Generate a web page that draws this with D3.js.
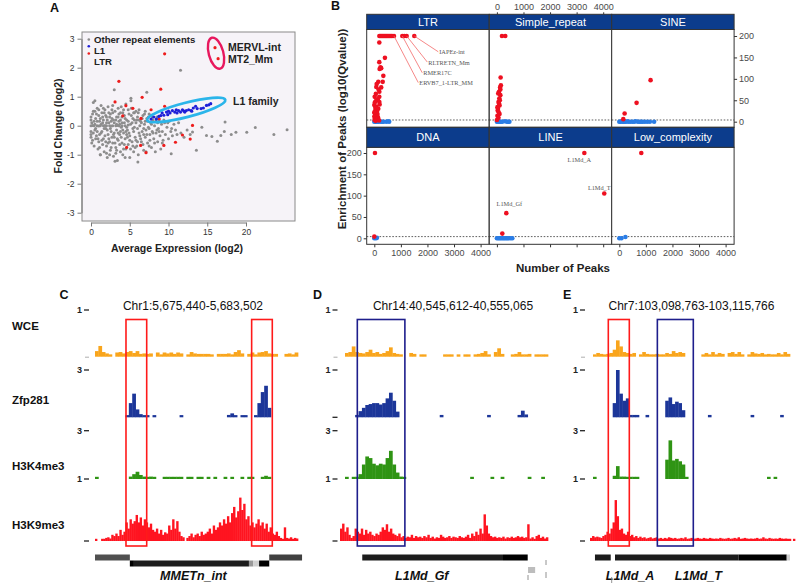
<!DOCTYPE html>
<html><head><meta charset="utf-8">
<script src="https://cdn.jsdelivr.net/npm/d3@7"></script>
<style>body{margin:0;background:#fff}svg{display:block}</style>
</head><body><svg id="c" width="796" height="586"></svg>
<script>
// ---------------- DATA: panel A ----------------
const grayPts = [
[0,0],[0.2,0.01],[0.4,0],[0.8,0],[1,-0.01],[1.2,0],[1.6,0],[1.8,0.01],[2,0],[2.4,0],[2.6,-0.01],[2.8,0],[3.2,0],[3.4,0.01],[3.6,0],[4,0],[4.4,0],[4.8,0.02],
[0,0.3],[0,0.2],[0,-0.2],[0,-0.3],[0,-0.4],[0.1,0.1],[0.2,-0.5],[0.3,0.8],[0.4,-0.7],[0.5,0.5],[0.5,-0.15],[0.6,0.25],[0.7,-0.35],[0.8,0.6],[0.9,-0.8],[1.0,0.35],[1.0,-0.55],[1.1,0.15],[1.2,-1.0],[1.3,0.7],[1.3,-0.25],[1.4,0.45],[1.5,-0.65],[1.6,0.2],[1.6,-0.45],[1.7,-0.9],[1.8,0.55],[1.9,-0.1],[2.0,0.3],[2.0,-0.7],[2.1,-1.1],[2.2,0.65],[2.2,-0.3],[2.3,0.1],[2.4,-0.55],[2.5,0.4],[2.5,-0.85],[2.6,-0.2],[2.7,0.25],[2.8,-0.6],[2.8,0.7],[2.9,-1.05],[3.0,0.1],[3.0,-0.4],[3.1,0.5],[3.2,-0.75],[3.3,-0.15],[3.3,0.3],[3.4,-1.2],[3.5,0.6],[3.5,-0.5],[3.6,0.15],[3.7,-0.3],[3.8,-0.9],[3.8,0.45],[3.9,-0.05],[4.0,0.3],[4.0,-0.6],[4.1,-1.0],[4.2,0.55],[4.2,-0.25],[4.3,0.1],[4.4,-0.45],[4.5,0.75],[4.5,-0.8],[4.6,0.2],[4.7,-0.15],[4.8,-0.65],[4.9,0.4],[5.0,-1.1],[5.0,-0.35],[5.1,0.05],[5.2,0.6],[5.3,-0.55],[5.4,0.25],[5.5,-0.2],[5.5,-0.9],[5.6,0.45],[5.7,-0.4],[5.8,0.1],[5.9,-0.7],[6.0,0.3],[6.0,-0.1],[6.1,-1.0],[6.2,0.55],[6.3,-0.35],[6.4,0.15],[6.5,-0.55],[6.6,-0.2],[6.7,0.35],[6.8,-0.85],[6.9,0.05],[7.0,-0.4],[7.0,0.5],[7.1,-0.15],[7.2,0.25],[7.3,-0.6],[7.4,-0.05],[7.5,0.4],[7.6,-0.3],[7.7,0.1],[7.8,-0.75],[7.9,-0.2],[8.0,0.2],[8.1,-0.45],[8.2,0.0],[8.3,-0.9],[8.4,-0.25],[8.5,0.3],[8.6,-0.55],[8.7,-0.1],[8.8,0.15],[8.9,-0.35],[9.0,-0.8],[9.1,0.05],[9.2,-0.2],[9.3,-0.5],[9.5,0.1],[9.6,-0.3],[9.8,-0.05],[10.0,-0.45],[10.1,0.15],[10.3,-0.2],[10.5,-0.35],[10.7,0.05],[10.9,-0.15],[11.1,-0.3],[11.3,0.1],[11.6,-0.25],[12.0,-0.4],[12.4,-0.15],[12.8,-0.3],[13.1,-0.22],[13.6,-0.85],[14.3,-0.05],[14.9,-0.34],[15.6,-0.37],[16.3,-0.54],[16.75,-0.34],[17.2,-0.2],[17.3,0.13],[18.1,-0.3],[18.7,-0.23],[20.1,-0.23],[21.2,-0.06],[23.6,-0.3],[25.3,-0.14],[11.55,1.91],[7.2,1.15],[3.0,1.24],[5.15,0.95],[5.15,0.86],[0.5,0.86],[10.35,-0.97],[6.05,-1.25],[3.1,-1.23],[1.2,-1.0],
[1.5,0.1],[2.1,-0.15],[2.9,0.2],[3.7,0.05],[4.6,-0.05],[1.1,-0.3],[0.6,-0.1],[1.9,0.35],[2.7,-0.4],[3.5,-0.25],[4.3,0.35],[5.4,-0.1],[6.5,0.1],[6.2,-0.25],[7.5,-0.1],[8.5,-0.15],[0.3,-0.25],[0.8,0.15],[1.4,-0.2],[2.3,0.45],[3.1,-0.6],[3.9,0.65],[4.7,-0.4],[5.6,0.2],[6.8,-0.3],[7.7,0.35],[8.2,-0.6],[9.4,0.2],[1.7,0.45],[2.6,0.15],[4.1,-0.15],[5.8,-0.5],[6.9,0.4],[7.3,0.15],[8.8,-0.2],[0.9,-0.45],[2.4,-1.0],[3.3,-0.85],[4.4,-1.1],[5.7,-0.75],[7.1,-0.9],
[0.2,0.4],[0.4,0.15],[0.6,-0.45],[0.8,-0.2],[1.0,0.55],[1.2,0.25],[1.4,-0.5],[1.6,0.6],[1.8,-0.35],[2.0,0.1],[2.2,-0.6],[2.4,0.3],[2.6,-0.75],[2.8,0.45],[3.0,-0.25],[3.2,0.2],[3.4,-0.45],[3.6,0.4],[3.8,-0.2],[4.0,0.1],[4.2,-0.8],[4.4,0.25],[4.6,-0.3],[4.8,0.15],[5.0,-0.5],[5.2,0.35],[5.4,-0.7],[5.6,-0.05],[5.8,0.5],[6.0,-0.55],[6.2,0.2],[6.4,-0.45],[6.6,0.25],[6.8,-0.1],[7.0,0.15],[7.2,-0.3],[7.4,0.3],[7.6,-0.5],[7.8,0.05],[8.0,-0.25],[1.3,0.05],[2.5,-0.1],[3.3,0.05],[4.5,-0.2],[5.3,0.1],[6.3,0.0],[0.7,0.4],[1.9,-0.55],[2.9,-0.3],[3.9,-0.4],[4.9,-0.25],[5.9,0.2],[0.5,0.05],[1.5,0.3],[2.3,-0.45],[3.5,0.3],[4.1,0.45],[5.1,-0.8],[6.1,0.45],[7.9,0.3],[8.6,0.1],[9.2,-0.6],[9.9,0.1],[10.4,-0.1],[0.1,-0.6],[0.3,0.5],[1.1,-0.75],[2.0,-0.95],[2.7,0.55],[3.7,-0.65],[4.8,0.55],[5.5,0.45],[6.7,-0.65],[7.5,-0.7],[8.4,0.2],[3.2,-0.95],[4.3,-0.65],[1.7,-0.1],[2.1,0.2],[3.8,0.2]
];
const l1Pts = [[7.75,0.23],[8.1,0.3],[8.44,0.23],[8.75,0.32],[9.0,0.35],[9.18,0.44],[9.4,0.36],[9.74,0.47],[9.9,0.38],[10.0,0.5],[10.2,0.44],[10.5,0.52],[10.8,0.47],[11.0,0.55],[11.1,0.44],[11.3,0.52],[11.55,0.47],[11.8,0.55],[12.0,0.5],[12.1,0.47],[12.3,0.52],[12.6,0.55],[12.9,0.52],[13.0,0.5],[13.2,0.61],[13.5,0.67],[13.7,0.59],[14.2,0.59],[14.5,0.61],[14.9,0.7],[15.2,0.72],[15.45,0.76]];
const ltrPts = [[9.5,2.48],[3.6,1.53],[9.0,1.26],[6.6,0.98],[3.1,0.82],[4.5,0.69],[5.4,0.6],[7.75,0.55],[9.5,0.67],[4.1,0.34],[6.45,0.25],[8.8,0.23],[13.1,0.01],[11.8,-0.32],[12.8,-0.46],[10.9,-0.57],[9.4,-0.68],[6.4,-0.68],[4.6,-0.75],[7.1,-0.93]];
const ltrNamed = [{name:"MERVL-int",x:16.0,y:2.69},{name:"MT2_Mm",x:16.4,y:2.31}];
const legendA = [{label:"Other repeat elements",color:"#8c8c8c"},{label:"L1",color:"#1f1fd8"},{label:"LTR",color:"#ee1c1c"}];
const aXTicks = [0,5,10,15,20];
const aYTicks = [-3,-2,-1,0,1,2,3];

// ---------------- DATA: panel B ----------------
const facetNames = ["LTR","Simple_repeat","SINE","DNA","LINE","Low_complexity"];
const ltrSig = [[190,200],[230,200],[270,200],[310,200],[350,200],[390,200],[430,200],[470,200],[510,200],[550,200],[590,200],[630,200],[670,200],[741,200],[1054,200],[1130,200],[1218,200],[1505,200],
[188,185],[400,149],[188,139],[230,127],[260,125],[200,123],[340,107],[150,93],[316,93],[75,81],[260,80],[190,70],[15,58],[188,58],[75,50],[190,46],[0,39],[75,35],[150,30],[40,27],[100,24],[20,20],[120,18],[60,15],[0,12],[140,10],[30,8],[90,6],[10,4],[180,3],[50,2],[110,30],[200,40],[60,65],[130,52],[20,45],[90,88],[160,75],[40,33],[0,22]];
const ltrNon = [[0,0],[40,0],[80,0],[120,0],[160,0],[200,1],[250,0],[300,0],[350,0],[450,0],[520,1],[560,0],[30,2],[100,1]];
const simpleSig = [[190,200],[315,200],[140,103],[150,85],[120,80],[80,70],[130,62],[90,54],[60,46],[100,38],[40,30],[70,22],[20,14],[60,9],[0,4],[110,50],[50,66],[30,26],[100,18],[80,42],[130,75],[20,34]];
const simpleNon = [[0,0],[50,0],[100,0],[150,0],[200,0],[300,1],[380,0],[420,0],[470,0]];
const sineSig = [[1177,97],[650,44],[200,19],[150,6]];
const sineNon = [[0,0],[40,0],[80,1],[120,0],[160,0],[200,0],[250,0],[300,1],[350,0],[420,0],[500,0],[560,0],[620,1],[700,0],[760,0],[820,0],[880,0],[960,0],[1050,0],[1150,0],[1310,0]];
const dnaSig = [[25,200],[0,4]];
const dnaNon = [[0,0],[60,0],[100,1]];
const lineSig = [[3290,200],[4040,105],[354,59],[203,11]];
const lineNon = [[0,0],[50,0],[100,0],[150,0],[200,0],[250,0],[300,0],[350,0],[400,0],[450,0],[520,0],[580,0]];
const lowSig = [[828,200]];
const lowNon = [[0,0],[80,0],[230,3]];
const ltrLabels = [
 {name:"IAPEz-int",x:1505,y:200,lx:2445,ly:162},
 {name:"RLTRETN_Mm",x:1218,y:200,lx:2032,ly:138},
 {name:"RMER17C",x:1054,y:200,lx:1843,ly:113},
 {name:"ERVB7_1-LTR_MM",x:741,y:200,lx:1693,ly:90}];
const lineLabels = [{name:"L1Md_A",x:3290,y:200},{name:"L1Md_T",x:4040,y:105},{name:"L1Md_Gf",x:354,y:59}];
const bXTicks = [0,1000,2000,3000,4000];
const bYTicks = [0,50,100,150,200];
const qThreshold = 4;

// ---------------- DATA: panels C, D, E ----------------
const trackNames = ["WCE","Zfp281","H3K4me3","H3K9me3"];
const wceC = [0.12,0.23,0.1,0.07,0.05,0,0.09,0.1,0.07,0.1,0.12,0.08,0.12,0.06,0.07,0.06,0.07,0,0.09,0.05,0.09,0.07,0.09,0.06,0.09,0.07,0,0.05,0.1,0.07,0.06,0.06,0.06,0.06,0.05,0,0.06,0.06,0.06,0.07,0.05,0.1,0.14,0.07,0,0.06,0.09,0.05,0.09,0.1,0.12,0.07,0.06,0.06,0,0,0.06,0.07,0.05,0.09];
const zfpC = [0,0,0,0,0,0,0,0,0,0.1,0.9,1.5,0.5,0.2,0.05,0.05,0,0.05,0,0,0,0,0,0,0,0.05,0,0,0,0,0,0,0,0,0,0,0,0,0,0.15,0.25,0.05,0,0.05,0.05,0,0,0.1,0.9,1.6,2.0,0.6,0,0,0,0,0,0,0,0];
const k4C = [0.05,0,0,0,0,0,0,0,0,0,0.15,0.3,0.45,0.25,0.15,0.1,0.15,0.05,0,0,0.05,0.05,0.05,0.05,0.05,0.05,0,0.05,0.05,0,0.05,0.05,0,0.05,0,0.05,0,0,0.05,0,0.05,0,0,0.05,0,0.05,0.05,0,0,0.1,0.2,0.05,0,0,0,0,0,0,0,0];
const k9C = [0.03,0,0,0.02,0.03,0.05,0.06,0.04,0.1,0.08,0.12,0.08,0.18,0.1,0.15,0.3,0.2,0.35,0.28,0.32,0.42,0.3,0.38,0.25,0.35,0.3,0.22,0.28,0.18,0.15,0.2,0.12,0.18,0.1,0.14,0.12,0.25,0.18,0.35,0.2,0.32,0.15,0.08,0.06,0,0.05,0.08,0.12,0.06,0.1,0.12,0.08,0.15,0.1,0.12,0.15,0.2,0.12,0.25,0.18,0.22,0.3,0.25,0.35,0.28,0.4,0.3,0.45,0.55,0.38,0.48,0.7,0.5,0.6,0.35,0.4,0.25,0.3,0.22,0.28,0.35,0.25,0.3,0.2,0.28,0.15,0.22,0.12,0.1,0.15,0.08,0.05,0.03,0.22,0.05,0.04,0.06,0.03,0.05,0.04];
const wceD = [0.08,0.1,0.22,0.1,0.08,0.07,0.1,0.15,0.08,0.1,0.06,0.08,0.12,0.2,0.08,0.06,0.05,0,0,0.08,0.06,0,0.05,0.05,0,0,0,0,0,0.05,0.05,0.05,0,0.05,0,0.05,0.05,0,0.05,0.06,0.08,0.12,0.05,0,0.1,0.18,0.06,0,0,0.05,0.06,0.1,0.05,0.05,0.06,0,0.05,0.05,0.05,0.05];
const zfpD = [0,0,0,0.05,0.13,0.2,0.26,0.28,0.3,0.3,0.27,0.3,0.4,0.52,0.35,0.12,0,0,0,0,0,0,0,0,0,0,0,0,0.05,0,0,0,0,0,0,0,0,0,0,0,0,0,0.05,0,0,0,0,0,0,0,0,0.05,0.14,0.06,0,0,0,0,0,0];
const k4D = [0.05,0,0.05,0.05,0.3,0.9,1.4,1.3,0.95,0.85,0.95,0.9,1.3,1.75,0.9,0.4,0.15,0.05,0,0,0,0,0,0,0,0,0,0,0,0,0,0,0,0,0,0,0,0.05,0,0,0,0,0,0.05,0,0,0.05,0,0,0,0,0,0,0,0.05,0,0,0,0.05,0];
const k9D = [0.2,0.28,0.15,0.22,0.1,0.05,0.08,0.2,0.15,0.12,0.2,0.1,0.18,0.12,0.15,0.1,0.08,0.12,0.1,0.15,0.22,0.18,0.27,0.15,0.2,0.12,0.1,0.08,0.12,0.06,0.08,0.05,0.07,0.06,0.1,0.05,0.08,0.06,0.07,0.05,0.08,0.06,0.1,0.05,0.07,0.04,0.06,0.05,0.1,0.07,0.05,0.06,0.08,0.05,0.07,0.06,0.05,0.08,0.06,0.05,0.07,0.1,0.05,0.12,0.08,0.15,0.1,0.2,0.12,0.43,0.25,0.12,0.08,0.06,0.07,0.05,0.06,0.05,0.07,0.04,0.06,0.05,0.07,0.05,0.06,0.08,0.06,0.07,0.05,0.06,0.27,0.04,0.06,0.03,0.08,0.1,0.05,0.07,0.04,0.06];
const wceE = [0.05,0.08,0.06,0.05,0.06,0.08,0.15,0.35,0.22,0.1,0.08,0.06,0.08,0,0.05,0.1,0.06,0.05,0.05,0.06,0.05,0.05,0.08,0.06,0.12,0.08,0.1,0.08,0,0,0,0,0,0.05,0.08,0.05,0.1,0.05,0.08,0.06,0,0.08,0.1,0.06,0.1,0.05,0,0.05,0.1,0.07,0.06,0.08,0.05,0.06,0.05,0.05,0.08,0.05,0.1,0.06];
const zfpE = [0,0,0,0,0,0,0.3,1.0,0.5,0.35,0.4,0.05,0.05,0.05,0,0,0.05,0,0,0,0,0,0.35,0.42,0.28,0.33,0.3,0.15,0,0,0,0,0,0,0,0.05,0,0,0,0,0,0,0,0,0,0,0,0,0.05,0,0,0,0,0,0,0,0,0.05,0,0];
const k4E = [0.05,0,0,0,0,0,0.2,0.8,0.15,0.15,0.12,0.05,0.05,0.05,0,0,0,0,0,0,0,0,1.2,2.4,1.15,1.25,1.1,0.9,0.1,0,0,0,0,0,0,0,0,0,0,0,0,0,0,0,0,0,0,0,0,0,0,0,0,0.05,0,0.05,0,0,0,0];
const k9E = [0.05,0.08,0.06,0.07,0.06,0.05,0.08,0.1,0.15,0.12,0.2,0.3,0.66,0.4,0.18,0.2,0.12,0.1,0.15,0.08,0.1,0.06,0.08,0.05,0.07,0.05,0.06,0.04,0.05,0.06,0.04,0.05,0.06,0.04,0.05,0.03,0.05,0.04,0.06,0.05,0.04,0.05,0.03,0.04,0.05,0.04,0.06,0.03,0.04,0.05,0.03,0.04,0.05,0.04,0.03,0.05,0.04,0.03,0.05,0.04,0.03,0.04,0.03,0.05,0.04,0.03,0.04,0.05,0.03,0.04,0.05,0.04,0.06,0.03,0.04,0.05,0.04,0.03,0.04,0.03,0.04,0.05,0.03,0.04,0.06,0.04,0.03,0.05,0.04,0.03,0.04,0.03,0.05,0.04,0.03,0.04,0.03,0.02,0,0.03];
const scaleMaxC = [1,3,3,1], scaleMaxD = [1,1,3,1], scaleMaxE = [1,1,3,1];
const regionsC = [{from:9.16,to:15.28,kind:"red"},{from:46.3,to:52.4,kind:"red"}];
const regionsD = [{from:3.64,to:17.7,kind:"blue"}];
const regionsE = [{from:4.66,to:11.06,kind:"red"},{from:19.6,to:30.55,kind:"blue"}];
const genesC = [{s:0,e:10.3,row:0,tone:"#505050"},{s:10.3,e:11.5,row:1,tone:"#000"},{s:11.5,e:45.5,row:1,tone:"#1c1c1c"},{s:45.5,e:46.8,row:1,tone:"#999"},{s:46.8,e:48.5,row:1,tone:"#d0d0d0"},{s:48.5,e:51.5,row:1,tone:"#000"},{s:51.5,e:61.2,row:0,tone:"#404040"}];
const genesD = [{s:5.1,e:46.7,row:0,tone:"#1c1c1c"},{s:46.7,e:54,row:0,tone:"#000"},{s:54.1,e:56.2,row:2,tone:"#bdbdbd"}];
const genesE = [{s:0.6,e:5.4,row:0,tone:"#1c1c1c"},{s:6.7,e:44.3,row:0,tone:"#1c1c1c"},{s:44.3,e:59,row:0,tone:"#000"},{s:59,e:60,row:0,tone:"#cfcfcf"}];
const geneLabelsC = [{name:"MMETn_int",at:29.1}];
const geneLabelsD = [{name:"L1Md_Gf",at:22.7}];
const geneLabelsE = [{name:"L1Md_A",at:11.3},{name:"L1Md_T",at:32.1}];

// ---------------- DRAW ----------------
const FONT = "Arial, 'Liberation Sans', Helvetica, sans-serif";
const svg = d3.select("#c").style("font-family", FONT);
const plain = d => String(d);

function letter(t,x,y){ svg.append("text").attr("x",x).attr("y",y).attr("font-size",12.5).attr("font-weight","bold").attr("fill","#111").text(t); }

// ===== Panel A =====
(function(){
  const g = svg.append("g");
  const x = d3.scaleLinear().domain([0,20]).range([91,246]);
  const y = d3.scaleLinear().domain([-3,3]).range([212.7,38.7]);
  g.append("rect").attr("x",82).attr("y",32).attr("width",213).attr("height",189)
    .attr("fill","#f6f3f8").attr("stroke","#8a8a8a").attr("stroke-width",1);
  const ax = g.append("g").attr("transform","translate(0,222.5)")
    .call(d3.axisBottom(x).tickValues(aXTicks).tickFormat(plain).tickSize(4).tickSizeOuter(0).tickPadding(2));
  const ay = g.append("g").attr("transform","translate(81.5,0)")
    .call(d3.axisLeft(y).tickValues(aYTicks).tickFormat(plain).tickSize(4).tickSizeOuter(0).tickPadding(3));
  [ax,ay].forEach(a=>{a.selectAll("path,line").attr("stroke","#777");
    a.selectAll("text").attr("font-size",8.5).attr("fill","#333").attr("font-family",FONT);});
  g.append("g").selectAll("circle").data(grayPts).join("circle")
    .attr("cx",d=>x(d[0])).attr("cy",d=>y(d[1])).attr("r",1.5).attr("fill","#8d8d8d");
  g.append("g").selectAll("circle").data(ltrPts.concat(ltrNamed.map(d=>[d.x,d.y]))).join("circle")
    .attr("cx",d=>x(d[0])).attr("cy",d=>y(d[1])).attr("r",1.6).attr("fill","#ee1c1c");
  g.append("g").selectAll("circle").data(l1Pts).join("circle")
    .attr("cx",d=>x(d[0])).attr("cy",d=>y(d[1])).attr("r",1.6).attr("fill","#1f1fd8");
  // legend
  const legY = [39.5,46.3,53.5], legTY=[42.8,53.6,65];
  legendA.forEach((d,i)=>{
    g.append("circle").attr("cx",88.8).attr("cy",legY[i]).attr("r",1.3).attr("fill",d.color);
    g.append("text").attr("x",94).attr("y",legTY[i]).attr("font-size",9.6).attr("font-weight","bold").attr("fill","#222").text(d.label);
  });
  // pink ellipse around named LTRs
  const px = d3.mean(ltrNamed,d=>x(d.x))-0.5, py = d3.mean(ltrNamed,d=>y(d.y));
  g.append("ellipse").attr("cx",px).attr("cy",py).attr("rx",7.3).attr("ry",16)
    .attr("transform",`rotate(-15,${px},${py})`).attr("fill","none").attr("stroke","#e8175d").attr("stroke-width",2.4);
  ltrNamed.forEach((d,i)=>g.append("text").attr("x",228).attr("y",y(d.y)+3.8).attr("font-size",10.5)
    .attr("font-weight","bold").attr("fill","#222").text(d.name));
  // blue ellipse around L1 family
  const first = l1Pts[0], last = l1Pts[l1Pts.length-1];
  const x1=x(first[0]), y1=y(first[1]), x2=x(last[0]), y2=y(last[1]);
  const ang = Math.atan2(y2-y1,x2-x1), ux=Math.cos(ang), uy=Math.sin(ang);
  const ex1 = x1-4*ux, ey1=y1-4*uy, ex2 = x2+15*ux, ey2=y2+15*uy;
  const ecx=(ex1+ex2)/2, ecy=(ey1+ey2)/2, erx=Math.hypot(ex2-ex1,ey2-ey1)/2;
  g.append("ellipse").attr("cx",ecx).attr("cy",ecy).attr("rx",erx).attr("ry",7.2)
    .attr("transform",`rotate(${ang*180/Math.PI},${ecx},${ecy})`).attr("fill","none").attr("stroke","#2bb5ea").attr("stroke-width",2.8);
  g.append("text").attr("x",233).attr("y",104.5).attr("font-size",10.5).attr("font-weight","bold").attr("fill","#222").text("L1 family");
  g.append("text").attr("x",177).attr("y",252).attr("text-anchor","middle").attr("font-size",10.5).attr("font-weight","bold").attr("fill","#222").text("Average Expression (log2)");
  g.append("text").attr("transform","translate(61.5,126) rotate(-90)").attr("text-anchor","middle").attr("font-size",10.5).attr("font-weight","bold").attr("fill","#222").text("Fold Change (log2)");
  letter("A",50,11.5);
})();

// ===== Panel B =====
(function(){
  const g = svg.append("g");
  const colL = [366.7,489.3,611.7], colW = 122.4;
  const rows = [{sy:14.3,sh:15.2,py:29.5,ph:97.8,y0:121.7,y1:36},{sy:127.3,sh:20,py:147.3,ph:97,y0:238.3,y1:153}];
  const sig = [ltrSig,simpleSig,sineSig,dnaSig,lineSig,lowSig];
  const non = [ltrNon,simpleNon,sineNon,dnaNon,lineNon,lowNon];
  const lineOff = [[-5,8.5],[-5,-4],[3,-7]];
  facetNames.forEach((name,i)=>{
    const c=i%3, r=Math.floor(i/3), R=rows[r], L=colL[c];
    const xs = d3.scaleLinear().domain([0,4000]).range([L+7.6,L+113.9]);
    const ys = d3.scaleLinear().domain([0,200]).range([R.y0,R.y1]);
    g.append("rect").attr("x",L).attr("y",R.py).attr("width",colW).attr("height",R.ph).attr("fill","#fff").attr("stroke","#333").attr("stroke-width",1);
    g.append("rect").attr("x",L).attr("y",R.sy).attr("width",colW).attr("height",R.sh).attr("fill","#0c3c8c").attr("stroke","#333").attr("stroke-width",1);
    g.append("text").attr("x",L+colW/2).attr("y",R.sy+R.sh/2+4).attr("text-anchor","middle").attr("font-size",11).attr("fill","#fff").text(name);
    g.append("line").attr("x1",L).attr("x2",L+colW).attr("y1",ys(qThreshold)).attr("y2",ys(qThreshold))
      .attr("stroke","#333").attr("stroke-width",0.8).attr("stroke-dasharray","1.6,1.6");
    g.append("g").selectAll("circle").data(non[i]).join("circle").attr("cx",d=>xs(d[0])).attr("cy",d=>ys(d[1])).attr("r",2.3).attr("fill","#2a7de6");
    g.append("g").selectAll("circle").data(sig[i]).join("circle").attr("cx",d=>xs(d[0])).attr("cy",d=>ys(d[1])).attr("r",2.3).attr("fill","#ee1020");
    if(name==="LTR"){
      ltrLabels.forEach(d=>{
        g.append("line").attr("x1",xs(d.x)).attr("y1",ys(d.y)).attr("x2",xs(d.lx)-1).attr("y2",ys(d.ly)-0.5).attr("stroke","#f26a6a").attr("stroke-width",0.8);
        g.append("text").attr("x",xs(d.lx)).attr("y",ys(d.ly)+2.2).attr("font-size",6.3).attr("font-family","'Liberation Serif','DejaVu Serif',serif").attr("fill","#555").text(d.name);
      });
    }
    if(name==="LINE"){
      lineLabels.forEach((d,k)=>g.append("text").attr("x",xs(d.x)+lineOff[k][0]).attr("y",ys(d.y)+lineOff[k][1]).attr("text-anchor","middle")
        .attr("font-size",6.3).attr("font-family","'Liberation Serif','DejaVu Serif',serif").attr("fill","#555").text(d.name));
    }
    const styleAx = a=>{a.selectAll("path").attr("stroke","none");a.selectAll("line").attr("stroke","#333");
      a.selectAll("text").attr("font-size",9).attr("fill","#4a4a4a").attr("font-family",FONT);};
    if(r===1){
      const a = g.append("g").attr("transform",`translate(0,${R.py+R.ph})`).call(d3.axisBottom(xs).tickValues(bXTicks).tickFormat(plain).tickSize(3).tickPadding(2));
      styleAx(a); if(c===1) a.selectAll("text").remove();
      if(c===0){ const a2=g.append("g").attr("transform",`translate(${L},0)`).call(d3.axisLeft(ys).tickValues(bYTicks).tickFormat(plain).tickSize(3).tickPadding(2)); styleAx(a2); }
    } else {
      if(c===1){ const a=g.append("g").attr("transform",`translate(0,${R.sy})`).call(d3.axisTop(xs).tickValues(bXTicks).tickFormat(plain).tickSize(2).tickPadding(2)); styleAx(a); }
      if(c===2){ const a=g.append("g").attr("transform",`translate(${L+colW},0)`).call(d3.axisRight(ys).tickValues(bYTicks).tickFormat(plain).tickSize(3).tickPadding(2)); styleAx(a); }
    }
  });
  g.append("text").attr("x",563).attr("y",272).attr("text-anchor","middle").attr("font-size",11.5).attr("font-weight","bold").attr("fill","#222").text("Number of Peaks");
  g.append("text").attr("transform","translate(346,129) rotate(-90)").attr("text-anchor","middle").attr("font-size",11.5).attr("font-weight","bold").attr("fill","#222").text("Enrichment of Peaks (log10(Qvalue))");
  letter("B",331,9.5);
})();

// ===== Panels C, D, E =====
(function(){
  const tracks = [{base:356.7,top:310,color:"#f9a51c"},{base:417.3,top:370,color:"#1c3699"},{base:479,top:430.7,color:"#2f9414"},{base:541,top:479,color:"#ff1420"}];
  const labelY = [330,404,470,529];
  trackNames.forEach((t,i)=>svg.append("text").attr("x",12).attr("y",labelY[i]).attr("font-size",11.5).attr("font-weight","bold").attr("fill","#111").text(t));
  const panels = [
    {L:"C",lx:59.5,title:"Chr1:5,675,440-5,683,502",tx:193,x0:95,x1:298,k0:95,k1:298,tick:84,max:scaleMaxC,data:[wceC,zfpC,k4C,k9C],reg:regionsC,genes:genesC,gl:geneLabelsC,baseDash:[3]},
    {L:"D",lx:313,title:"Chr14:40,545,612-40,555,065",tx:453,x0:345,x1:548,k0:340,k1:548,tick:332.5,max:scaleMaxD,data:[wceD,zfpD,k4D,k9D],reg:regionsD,genes:genesD,gl:geneLabelsD,baseDash:[1,3]},
    {L:"E",lx:563,title:"Chr7:103,098,763-103,115,766",tx:691.5,x0:593,x1:790,k0:590,k1:795,tick:580,max:scaleMaxE,data:[wceE,zfpE,k4E,k9E],reg:regionsE,genes:genesE,gl:geneLabelsE,baseDash:[3]}
  ];
  const geneRows = [[554.5,6],[560.5,6],[567,6]];
  panels.forEach(P=>{
    const g = svg.append("g");
    letter(P.L,P.lx,298.5);
    g.append("text").attr("x",P.tx).attr("y",309.5).attr("text-anchor","middle").attr("font-size",12).attr("fill","#111").text(P.title);
    const gx = d3.scaleLinear().domain([0,60]).range([P.x0,P.x1]);
    P.data.forEach((arr,ti)=>{
      const T = tracks[ti];
      const xs = ti===3 ? d3.scaleLinear().domain([0,arr.length]).range([P.k0,P.k1]) : d3.scaleLinear().domain([0,arr.length]).range([P.x0,P.x1]);
      const ys = d3.scaleLinear().domain([0,P.max[ti]]).range([T.base,T.top]);
      g.append("g").selectAll("rect").data(arr.map((v,i)=>({v,i})).filter(d=>d.v>0)).join("rect")
        .attr("x",d=>xs(d.i)).attr("width",d=>xs(d.i+1)-xs(d.i)+0.35)
        .attr("y",d=>Math.min(ys(d.v),T.base-2.2)).attr("height",d=>T.base-Math.min(ys(d.v),T.base-2.2))
        .attr("fill",T.color);
      g.append("text").attr("x",P.tick-2).attr("y",T.top+3.3).attr("text-anchor","end").attr("font-size",9).attr("font-weight","bold").attr("fill","#222").text(P.max[ti]);
      g.append("line").attr("x1",P.tick).attr("x2",P.tick+5).attr("y1",T.top).attr("y2",T.top).attr("stroke","#222").attr("stroke-width",1.3);
    });
    g.append("line").attr("x1",P.tick+1).attr("x2",P.tick+5).attr("y1",tracks[0].base+0.5).attr("y2",tracks[0].base+0.5).attr("stroke","#999").attr("stroke-width",0.8);
    P.baseDash.forEach(ti=>g.append("line").attr("x1",P.tick).attr("x2",P.tick+5).attr("y1",tracks[ti].base).attr("y2",tracks[ti].base).attr("stroke","#222").attr("stroke-width",1.3));
    g.append("g").selectAll("rect").data(P.reg).join("rect")
      .attr("x",d=>gx(d.from)).attr("width",d=>gx(d.to)-gx(d.from)).attr("y",319.5).attr("height",226.5)
      .attr("fill","none").attr("stroke",d=>d.kind==="red"?"#ff1a1a":"#1e1e8c").attr("stroke-width",1.6);
    g.append("g").selectAll("rect").data(P.genes).join("rect")
      .attr("x",d=>gx(d.s)).attr("width",d=>gx(d.e)-gx(d.s)).attr("y",d=>geneRows[d.row][0]).attr("height",d=>geneRows[d.row][1]).attr("fill",d=>d.tone);
    g.append("g").selectAll("text").data(P.gl).join("text").attr("x",d=>gx(d.at)).attr("y",579.5).attr("text-anchor","middle")
      .attr("font-size",12.5).attr("font-weight","bold").attr("font-style","italic").attr("fill","#111").text(d=>d.name);
  });
  [[611.7,577,583],[528,575,580],[546,560,565],[546,572,578]].forEach(m=>svg.append("line").attr("x1",m[0]).attr("x2",m[0]).attr("y1",m[1]).attr("y2",m[2]).attr("stroke","#777").attr("stroke-width",0.8));
})();
</script></body></html>
